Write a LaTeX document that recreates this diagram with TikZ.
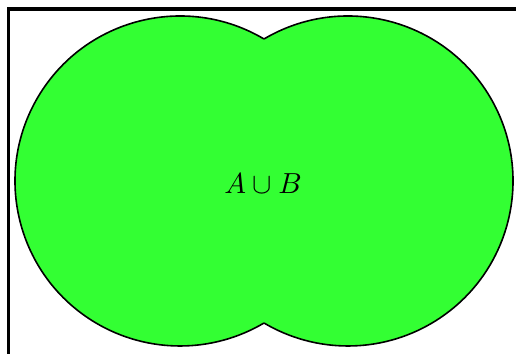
\documentclass[tikz,border=0pt]{standalone}
\begin{document}
\begin{tikzpicture}[x=1pt,y=1pt,
  outline/.style={draw=black,line width=1.6pt},
  framestyle/.style={draw=black,line width=3.4pt}]
\definecolor{vgreen}{RGB}{51,255,51}
\useasboundingbox (0,0) rectangle (516,353);
\begin{scope}
\clip (0,0) rectangle (516,353);
\draw[framestyle] (8.5,-20) -- (8.5,344) -- (540,344);
\end{scope}
\fill[vgreen] (180,172) circle (165) (348,172) circle (165);
\draw[outline] (180,172) ++(59.4:165) arc[start angle=59.4, end angle=300.6, radius=165];
\draw[outline] (348,172) ++(120.6:165) arc[start angle=120.6, end angle=-120.6, radius=165];
\node[scale=2.9] (lbl) at (263,169) {$A\cup B$};
\end{tikzpicture}
\end{document}
